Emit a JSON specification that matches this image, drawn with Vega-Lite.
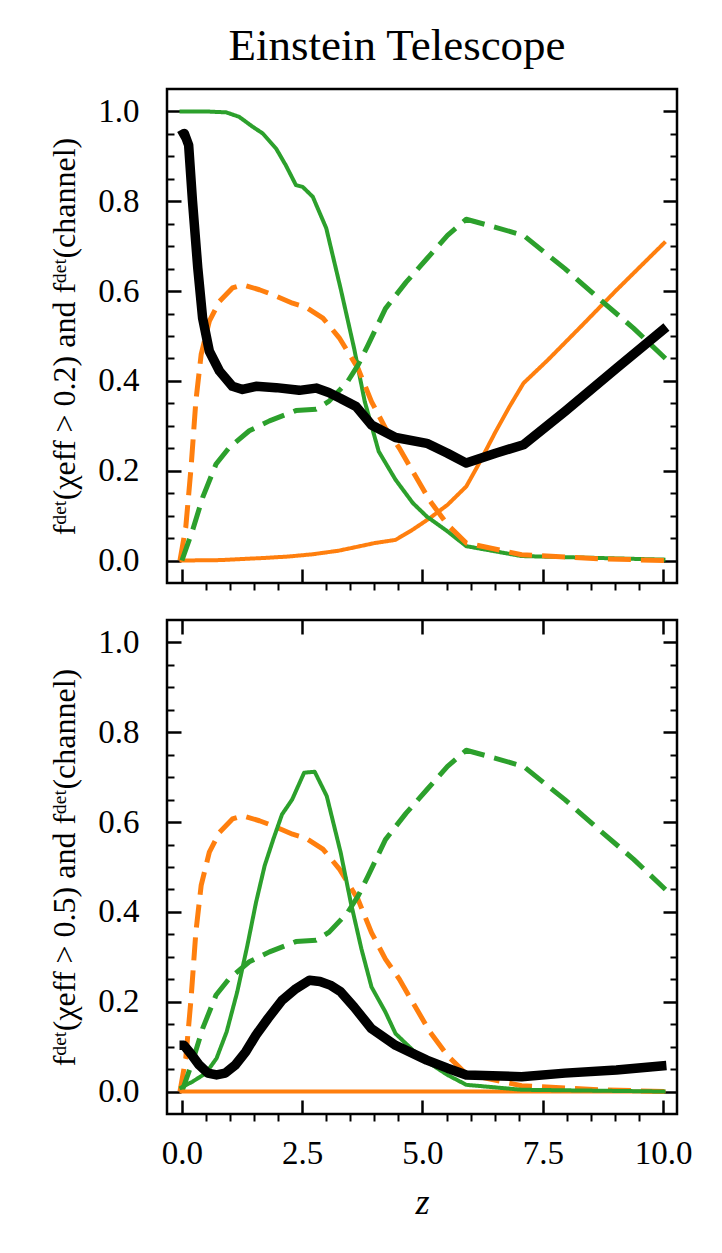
{
  "$schema": "https://vega.github.io/schema/vega-lite/v6.json",
  "background": "white",
  "padding": {"left": 47, "top": 22, "right": 10, "bottom": 5},
  "spacing": 24,
  "config": {
    "view": {"stroke": "black", "strokeWidth": 2.5},
    "font": "Liberation Serif",
    "axis": {
      "domain": false, "grid": false,
      "tickColor": "black", "tickWidth": 2.5,
      "labelFont": "Liberation Serif", "labelFontSize": 33, "labelColor": "black",
      "titleFont": "Liberation Serif, DejaVu Serif", "titleFontSize": 32, "titleColor": "black", "titleFontWeight": "normal"
    },
    "line": {"strokeCap": "butt", "strokeJoin": "round"}
  },
  "datasets": {
    "curves": [
      {"panel": "top", "group": "ch1", "q": "chi", "z": -0.05, "f": 0.0},
      {"panel": "top", "group": "ch1", "q": "chi", "z": 0.8, "f": 0.001},
      {"panel": "top", "group": "ch1", "q": "chi", "z": 1.75, "f": 0.006},
      {"panel": "top", "group": "ch1", "q": "chi", "z": 2.22, "f": 0.009},
      {"panel": "top", "group": "ch1", "q": "chi", "z": 2.72, "f": 0.014},
      {"panel": "top", "group": "ch1", "q": "chi", "z": 3.26, "f": 0.022},
      {"panel": "top", "group": "ch1", "q": "chi", "z": 3.66, "f": 0.031},
      {"panel": "top", "group": "ch1", "q": "chi", "z": 4.01, "f": 0.039},
      {"panel": "top", "group": "ch1", "q": "chi", "z": 4.44, "f": 0.046},
      {"panel": "top", "group": "ch1", "q": "chi", "z": 4.8, "f": 0.069},
      {"panel": "top", "group": "ch1", "q": "chi", "z": 5.16, "f": 0.095},
      {"panel": "top", "group": "ch1", "q": "chi", "z": 5.52, "f": 0.124},
      {"panel": "top", "group": "ch1", "q": "chi", "z": 5.91, "f": 0.165},
      {"panel": "top", "group": "ch1", "q": "chi", "z": 6.16, "f": 0.213},
      {"panel": "top", "group": "ch1", "q": "chi", "z": 6.52, "f": 0.287},
      {"panel": "top", "group": "ch1", "q": "chi", "z": 6.81, "f": 0.343},
      {"panel": "top", "group": "ch1", "q": "chi", "z": 7.1, "f": 0.395},
      {"panel": "top", "group": "ch1", "q": "chi", "z": 7.6, "f": 0.446},
      {"panel": "top", "group": "ch1", "q": "chi", "z": 8.32, "f": 0.524},
      {"panel": "top", "group": "ch1", "q": "chi", "z": 9.03, "f": 0.602},
      {"panel": "top", "group": "ch1", "q": "chi", "z": 10.05, "f": 0.71},

      {"panel": "top", "group": "ch2", "q": "chi", "z": -0.05, "f": 1.0},
      {"panel": "top", "group": "ch2", "q": "chi", "z": 0.5, "f": 1.0},
      {"panel": "top", "group": "ch2", "q": "chi", "z": 0.92, "f": 0.998},
      {"panel": "top", "group": "ch2", "q": "chi", "z": 1.19, "f": 0.988},
      {"panel": "top", "group": "ch2", "q": "chi", "z": 1.47, "f": 0.966},
      {"panel": "top", "group": "ch2", "q": "chi", "z": 1.68, "f": 0.951},
      {"panel": "top", "group": "ch2", "q": "chi", "z": 1.96, "f": 0.917},
      {"panel": "top", "group": "ch2", "q": "chi", "z": 2.16, "f": 0.88},
      {"panel": "top", "group": "ch2", "q": "chi", "z": 2.37, "f": 0.836},
      {"panel": "top", "group": "ch2", "q": "chi", "z": 2.51, "f": 0.832},
      {"panel": "top", "group": "ch2", "q": "chi", "z": 2.72, "f": 0.81},
      {"panel": "top", "group": "ch2", "q": "chi", "z": 3.0, "f": 0.74},
      {"panel": "top", "group": "ch2", "q": "chi", "z": 3.3, "f": 0.605},
      {"panel": "top", "group": "ch2", "q": "chi", "z": 3.58, "f": 0.472},
      {"panel": "top", "group": "ch2", "q": "chi", "z": 3.8, "f": 0.354},
      {"panel": "top", "group": "ch2", "q": "chi", "z": 4.09, "f": 0.243},
      {"panel": "top", "group": "ch2", "q": "chi", "z": 4.44, "f": 0.18},
      {"panel": "top", "group": "ch2", "q": "chi", "z": 4.8, "f": 0.128},
      {"panel": "top", "group": "ch2", "q": "chi", "z": 5.09, "f": 0.098},
      {"panel": "top", "group": "ch2", "q": "chi", "z": 5.52, "f": 0.065},
      {"panel": "top", "group": "ch2", "q": "chi", "z": 5.91, "f": 0.032},
      {"panel": "top", "group": "ch2", "q": "chi", "z": 7.06, "f": 0.01},
      {"panel": "top", "group": "ch2", "q": "chi", "z": 10.05, "f": 0.002},

      {"panel": "top", "group": "all", "q": "chi", "z": -0.05, "f": 0.945},
      {"panel": "top", "group": "all", "q": "chi", "z": 0.05, "f": 0.951},
      {"panel": "top", "group": "all", "q": "chi", "z": 0.14, "f": 0.925},
      {"panel": "top", "group": "all", "q": "chi", "z": 0.22, "f": 0.8},
      {"panel": "top", "group": "all", "q": "chi", "z": 0.33, "f": 0.651},
      {"panel": "top", "group": "all", "q": "chi", "z": 0.43, "f": 0.54},
      {"panel": "top", "group": "all", "q": "chi", "z": 0.57, "f": 0.466},
      {"panel": "top", "group": "all", "q": "chi", "z": 0.78, "f": 0.422},
      {"panel": "top", "group": "all", "q": "chi", "z": 1.05, "f": 0.388},
      {"panel": "top", "group": "all", "q": "chi", "z": 1.26, "f": 0.381},
      {"panel": "top", "group": "all", "q": "chi", "z": 1.54, "f": 0.388},
      {"panel": "top", "group": "all", "q": "chi", "z": 1.96, "f": 0.385},
      {"panel": "top", "group": "all", "q": "chi", "z": 2.44, "f": 0.379},
      {"panel": "top", "group": "all", "q": "chi", "z": 2.79, "f": 0.384},
      {"panel": "top", "group": "all", "q": "chi", "z": 3.05, "f": 0.374},
      {"panel": "top", "group": "all", "q": "chi", "z": 3.3, "f": 0.361},
      {"panel": "top", "group": "all", "q": "chi", "z": 3.62, "f": 0.343},
      {"panel": "top", "group": "all", "q": "chi", "z": 3.94, "f": 0.302},
      {"panel": "top", "group": "all", "q": "chi", "z": 4.44, "f": 0.274},
      {"panel": "top", "group": "all", "q": "chi", "z": 5.09, "f": 0.261},
      {"panel": "top", "group": "all", "q": "chi", "z": 5.52, "f": 0.239},
      {"panel": "top", "group": "all", "q": "chi", "z": 5.91, "f": 0.217},
      {"panel": "top", "group": "all", "q": "chi", "z": 6.52, "f": 0.239},
      {"panel": "top", "group": "all", "q": "chi", "z": 7.1, "f": 0.258},
      {"panel": "top", "group": "all", "q": "chi", "z": 7.96, "f": 0.332},
      {"panel": "top", "group": "all", "q": "chi", "z": 9.03, "f": 0.428},
      {"panel": "top", "group": "all", "q": "chi", "z": 10.07, "f": 0.52},

      {"panel": "both", "group": "ch1", "q": "channel", "z": -0.04, "f": 0.0},
      {"panel": "both", "group": "ch1", "q": "channel", "z": 0.08, "f": 0.074},
      {"panel": "both", "group": "ch1", "q": "channel", "z": 0.19, "f": 0.207},
      {"panel": "both", "group": "ch1", "q": "channel", "z": 0.29, "f": 0.355},
      {"panel": "both", "group": "ch1", "q": "channel", "z": 0.4, "f": 0.459},
      {"panel": "both", "group": "ch1", "q": "channel", "z": 0.57, "f": 0.533},
      {"panel": "both", "group": "ch1", "q": "channel", "z": 0.78, "f": 0.577},
      {"panel": "both", "group": "ch1", "q": "channel", "z": 1.05, "f": 0.607},
      {"panel": "both", "group": "ch1", "q": "channel", "z": 1.26, "f": 0.614},
      {"panel": "both", "group": "ch1", "q": "channel", "z": 1.61, "f": 0.603},
      {"panel": "both", "group": "ch1", "q": "channel", "z": 1.89, "f": 0.592},
      {"panel": "both", "group": "ch1", "q": "channel", "z": 2.3, "f": 0.573},
      {"panel": "both", "group": "ch1", "q": "channel", "z": 2.58, "f": 0.564},
      {"panel": "both", "group": "ch1", "q": "channel", "z": 2.93, "f": 0.54},
      {"panel": "both", "group": "ch1", "q": "channel", "z": 3.27, "f": 0.496},
      {"panel": "both", "group": "ch1", "q": "channel", "z": 3.66, "f": 0.428},
      {"panel": "both", "group": "ch1", "q": "channel", "z": 3.94, "f": 0.354},
      {"panel": "both", "group": "ch1", "q": "channel", "z": 4.23, "f": 0.295},
      {"panel": "both", "group": "ch1", "q": "channel", "z": 4.52, "f": 0.25},
      {"panel": "both", "group": "ch1", "q": "channel", "z": 4.8, "f": 0.198},
      {"panel": "both", "group": "ch1", "q": "channel", "z": 5.16, "f": 0.132},
      {"panel": "both", "group": "ch1", "q": "channel", "z": 5.52, "f": 0.08},
      {"panel": "both", "group": "ch1", "q": "channel", "z": 5.91, "f": 0.039},
      {"panel": "both", "group": "ch1", "q": "channel", "z": 7.06, "f": 0.013},
      {"panel": "both", "group": "ch1", "q": "channel", "z": 8.67, "f": 0.004},
      {"panel": "both", "group": "ch1", "q": "channel", "z": 10.05, "f": 0.0},

      {"panel": "both", "group": "ch2", "q": "channel", "z": 0.0, "f": 0.0},
      {"panel": "both", "group": "ch2", "q": "channel", "z": 0.22, "f": 0.067},
      {"panel": "both", "group": "ch2", "q": "channel", "z": 0.43, "f": 0.14},
      {"panel": "both", "group": "ch2", "q": "channel", "z": 0.71, "f": 0.215},
      {"panel": "both", "group": "ch2", "q": "channel", "z": 0.98, "f": 0.251},
      {"panel": "both", "group": "ch2", "q": "channel", "z": 1.4, "f": 0.289},
      {"panel": "both", "group": "ch2", "q": "channel", "z": 1.82, "f": 0.311},
      {"panel": "both", "group": "ch2", "q": "channel", "z": 2.37, "f": 0.334},
      {"panel": "both", "group": "ch2", "q": "channel", "z": 2.79, "f": 0.337},
      {"panel": "both", "group": "ch2", "q": "channel", "z": 3.06, "f": 0.355},
      {"panel": "both", "group": "ch2", "q": "channel", "z": 3.44, "f": 0.398},
      {"panel": "both", "group": "ch2", "q": "channel", "z": 3.66, "f": 0.435},
      {"panel": "both", "group": "ch2", "q": "channel", "z": 3.87, "f": 0.48},
      {"panel": "both", "group": "ch2", "q": "channel", "z": 4.23, "f": 0.561},
      {"panel": "both", "group": "ch2", "q": "channel", "z": 4.66, "f": 0.62},
      {"panel": "both", "group": "ch2", "q": "channel", "z": 5.09, "f": 0.672},
      {"panel": "both", "group": "ch2", "q": "channel", "z": 5.52, "f": 0.724},
      {"panel": "both", "group": "ch2", "q": "channel", "z": 5.91, "f": 0.76},
      {"panel": "both", "group": "ch2", "q": "channel", "z": 6.52, "f": 0.742},
      {"panel": "both", "group": "ch2", "q": "channel", "z": 7.1, "f": 0.724},
      {"panel": "both", "group": "ch2", "q": "channel", "z": 7.96, "f": 0.65},
      {"panel": "both", "group": "ch2", "q": "channel", "z": 8.67, "f": 0.583},
      {"panel": "both", "group": "ch2", "q": "channel", "z": 9.39, "f": 0.517},
      {"panel": "both", "group": "ch2", "q": "channel", "z": 10.05, "f": 0.45},

      {"panel": "bottom", "group": "ch1", "q": "chi", "z": -0.05, "f": 0.0},
      {"panel": "bottom", "group": "ch1", "q": "chi", "z": 5.0, "f": 0.0},
      {"panel": "bottom", "group": "ch1", "q": "chi", "z": 10.05, "f": 0.0},

      {"panel": "bottom", "group": "ch2", "q": "chi", "z": -0.05, "f": 0.007},
      {"panel": "bottom", "group": "ch2", "q": "chi", "z": 0.22, "f": 0.022},
      {"panel": "bottom", "group": "ch2", "q": "chi", "z": 0.5, "f": 0.041},
      {"panel": "bottom", "group": "ch2", "q": "chi", "z": 0.72, "f": 0.074},
      {"panel": "bottom", "group": "ch2", "q": "chi", "z": 0.93, "f": 0.133},
      {"panel": "bottom", "group": "ch2", "q": "chi", "z": 1.15, "f": 0.222},
      {"panel": "bottom", "group": "ch2", "q": "chi", "z": 1.36, "f": 0.325},
      {"panel": "bottom", "group": "ch2", "q": "chi", "z": 1.54, "f": 0.421},
      {"panel": "bottom", "group": "ch2", "q": "chi", "z": 1.72, "f": 0.503},
      {"panel": "bottom", "group": "ch2", "q": "chi", "z": 1.9, "f": 0.562},
      {"panel": "bottom", "group": "ch2", "q": "chi", "z": 2.08, "f": 0.617},
      {"panel": "bottom", "group": "ch2", "q": "chi", "z": 2.29, "f": 0.65},
      {"panel": "bottom", "group": "ch2", "q": "chi", "z": 2.54, "f": 0.71},
      {"panel": "bottom", "group": "ch2", "q": "chi", "z": 2.76, "f": 0.712},
      {"panel": "bottom", "group": "ch2", "q": "chi", "z": 3.01, "f": 0.658},
      {"panel": "bottom", "group": "ch2", "q": "chi", "z": 3.3, "f": 0.532},
      {"panel": "bottom", "group": "ch2", "q": "chi", "z": 3.51, "f": 0.421},
      {"panel": "bottom", "group": "ch2", "q": "chi", "z": 3.73, "f": 0.318},
      {"panel": "bottom", "group": "ch2", "q": "chi", "z": 3.94, "f": 0.233},
      {"panel": "bottom", "group": "ch2", "q": "chi", "z": 4.23, "f": 0.177},
      {"panel": "bottom", "group": "ch2", "q": "chi", "z": 4.44, "f": 0.129},
      {"panel": "bottom", "group": "ch2", "q": "chi", "z": 4.8, "f": 0.092},
      {"panel": "bottom", "group": "ch2", "q": "chi", "z": 5.09, "f": 0.067},
      {"panel": "bottom", "group": "ch2", "q": "chi", "z": 5.52, "f": 0.037},
      {"panel": "bottom", "group": "ch2", "q": "chi", "z": 5.91, "f": 0.015},
      {"panel": "bottom", "group": "ch2", "q": "chi", "z": 7.06, "f": 0.004},
      {"panel": "bottom", "group": "ch2", "q": "chi", "z": 10.05, "f": 0.0},

      {"panel": "bottom", "group": "all", "q": "chi", "z": -0.05, "f": 0.103},
      {"panel": "bottom", "group": "all", "q": "chi", "z": 0.04, "f": 0.103},
      {"panel": "bottom", "group": "all", "q": "chi", "z": 0.18, "f": 0.085},
      {"panel": "bottom", "group": "all", "q": "chi", "z": 0.36, "f": 0.059},
      {"panel": "bottom", "group": "all", "q": "chi", "z": 0.54, "f": 0.041},
      {"panel": "bottom", "group": "all", "q": "chi", "z": 0.72, "f": 0.037},
      {"panel": "bottom", "group": "all", "q": "chi", "z": 0.9, "f": 0.041},
      {"panel": "bottom", "group": "all", "q": "chi", "z": 1.11, "f": 0.059},
      {"panel": "bottom", "group": "all", "q": "chi", "z": 1.33, "f": 0.089},
      {"panel": "bottom", "group": "all", "q": "chi", "z": 1.54, "f": 0.126},
      {"panel": "bottom", "group": "all", "q": "chi", "z": 1.79, "f": 0.163},
      {"panel": "bottom", "group": "all", "q": "chi", "z": 2.08, "f": 0.203},
      {"panel": "bottom", "group": "all", "q": "chi", "z": 2.37, "f": 0.229},
      {"panel": "bottom", "group": "all", "q": "chi", "z": 2.65, "f": 0.248},
      {"panel": "bottom", "group": "all", "q": "chi", "z": 2.87, "f": 0.245},
      {"panel": "bottom", "group": "all", "q": "chi", "z": 3.08, "f": 0.237},
      {"panel": "bottom", "group": "all", "q": "chi", "z": 3.3, "f": 0.222},
      {"panel": "bottom", "group": "all", "q": "chi", "z": 3.58, "f": 0.188},
      {"panel": "bottom", "group": "all", "q": "chi", "z": 3.94, "f": 0.14},
      {"panel": "bottom", "group": "all", "q": "chi", "z": 4.44, "f": 0.103},
      {"panel": "bottom", "group": "all", "q": "chi", "z": 5.09, "f": 0.07},
      {"panel": "bottom", "group": "all", "q": "chi", "z": 5.52, "f": 0.052},
      {"panel": "bottom", "group": "all", "q": "chi", "z": 5.91, "f": 0.037},
      {"panel": "bottom", "group": "all", "q": "chi", "z": 7.06, "f": 0.033},
      {"panel": "bottom", "group": "all", "q": "chi", "z": 7.96, "f": 0.041},
      {"panel": "bottom", "group": "all", "q": "chi", "z": 9.03, "f": 0.048},
      {"panel": "bottom", "group": "all", "q": "chi", "z": 10.07, "f": 0.058}
    ]
  },
  "vconcat": [
    {
      "width": 510,
      "height": 494,
      "title": {"text": "Einstein Telescope", "font": "Liberation Serif", "fontSize": 45, "fontWeight": "normal", "color": "black", "anchor": "middle", "dx": -25, "offset": 20},
      "data": {"name": "curves"},
      "transform": [{"filter": "datum.panel === 'top' || datum.panel === 'both'"}],
      "layer": [
        {
          "transform": [{"filter": "datum.group !== 'all'"}],
          "mark": {"type": "line"},
          "encoding": {
            "x": {"field": "z", "type": "quantitative", "scale": {"domain": [-0.31, 10.29], "nice": false, "zero": false},
              "axis": {"orient": "bottom", "values": [0, 2.5, 5, 7.5, 10], "tickSize": -14, "labels": false, "title": null}},
            "y": {"field": "f", "type": "quantitative", "scale": {"domain": [-0.05, 1.05], "nice": false, "zero": false},
              "axis": {"orient": "left", "values": [0, 0.2, 0.4, 0.6, 0.8, 1], "format": ".1f", "tickSize": -14, "labelPadding": 42, "titlePadding": 16,
                "title": "fᵈᵉᵗ(χeff > 0.2) and fᵈᵉᵗ(channel)"}},
            "color": {"field": "group", "type": "nominal", "scale": {"domain": ["ch1", "ch2"], "range": ["#ff7f0e", "#2ca02c"]}, "legend": null},
            "strokeDash": {"field": "q", "type": "nominal", "scale": {"domain": ["chi", "channel"], "range": [[1, 0], [23, 10]]}, "legend": null},
            "strokeWidth": {"field": "q", "type": "nominal", "scale": {"domain": ["chi", "channel"], "range": [4, 5]}, "legend": null}
          }
        },
        {
          "transform": [{"filter": "datum.group === 'all'"}],
          "mark": {"type": "line", "color": "black", "strokeWidth": 9.5},
          "encoding": {
            "x": {"field": "z", "type": "quantitative", "scale": {"domain": [-0.31, 10.29], "nice": false, "zero": false}, "axis": null},
            "y": {"field": "f", "type": "quantitative", "scale": {"domain": [-0.05, 1.05], "nice": false, "zero": false},
              "axis": {"orient": "right", "values": [0, 0.2, 0.4, 0.6, 0.8, 1], "tickSize": -14, "labels": false, "title": null}}
          }
        },
        {
          "mark": {"type": "line", "opacity": 0},
          "encoding": {
            "x": {"field": "z", "type": "quantitative", "scale": {"domain": [-0.31, 10.29], "nice": false, "zero": false},
              "axis": {"orient": "bottom", "values": [0.5, 1, 1.5, 2, 3, 3.5, 4, 4.5, 5.5, 6, 6.5, 7, 8, 8.5, 9, 9.5], "tickSize": 7, "tickWidth": 2, "labels": false, "title": null}},
            "y": {"field": "f", "type": "quantitative", "scale": {"domain": [-0.05, 1.05], "nice": false, "zero": false},
              "axis": {"orient": "left", "values": [0.05, 0.1, 0.15, 0.25, 0.3, 0.35, 0.45, 0.5, 0.55, 0.65, 0.7, 0.75, 0.85, 0.9, 0.95], "tickSize": -7, "tickWidth": 2, "labels": false, "title": null}}
          }
        },
        {
          "mark": {"type": "line", "opacity": 0},
          "encoding": {
            "x": {"field": "z", "type": "quantitative", "scale": {"domain": [-0.31, 10.29], "nice": false, "zero": false}, "axis": null},
            "y": {"field": "f", "type": "quantitative", "scale": {"domain": [-0.05, 1.05], "nice": false, "zero": false},
              "axis": {"orient": "right", "values": [0.05, 0.1, 0.15, 0.25, 0.3, 0.35, 0.45, 0.5, 0.55, 0.65, 0.7, 0.75, 0.85, 0.9, 0.95], "tickSize": -7, "tickWidth": 2, "labels": false, "title": null}}
          }
        }
      ],
      "resolve": {"axis": {"x": "independent", "y": "independent"}}
    },
    {
      "width": 510,
      "height": 494,
      "data": {"name": "curves"},
      "transform": [{"filter": "datum.panel === 'bottom' || datum.panel === 'both'"}],
      "layer": [
        {
          "transform": [{"filter": "datum.group !== 'all'"}],
          "mark": {"type": "line"},
          "encoding": {
            "x": {"field": "z", "type": "quantitative", "scale": {"domain": [-0.31, 10.29], "nice": false, "zero": false},
              "axis": {"orient": "bottom", "values": [0, 2.5, 5, 7.5, 10], "format": ".1f", "tickSize": -14, "labelPadding": 37, "titlePadding": 15,
                "title": "z", "titleFontStyle": "italic", "titleFontSize": 36}},
            "y": {"field": "f", "type": "quantitative", "scale": {"domain": [-0.05, 1.05], "nice": false, "zero": false},
              "axis": {"orient": "left", "values": [0, 0.2, 0.4, 0.6, 0.8, 1], "format": ".1f", "tickSize": -14, "labelPadding": 42, "titlePadding": 16,
                "title": "fᵈᵉᵗ(χeff > 0.5) and fᵈᵉᵗ(channel)"}},
            "color": {"field": "group", "type": "nominal", "scale": {"domain": ["ch1", "ch2"], "range": ["#ff7f0e", "#2ca02c"]}, "legend": null},
            "strokeDash": {"field": "q", "type": "nominal", "scale": {"domain": ["chi", "channel"], "range": [[1, 0], [23, 10]]}, "legend": null},
            "strokeWidth": {"field": "q", "type": "nominal", "scale": {"domain": ["chi", "channel"], "range": [4, 5]}, "legend": null}
          }
        },
        {
          "transform": [{"filter": "datum.group === 'all'"}],
          "mark": {"type": "line", "color": "black", "strokeWidth": 9.5},
          "encoding": {
            "x": {"field": "z", "type": "quantitative", "scale": {"domain": [-0.31, 10.29], "nice": false, "zero": false},
              "axis": {"orient": "top", "values": [0, 2.5, 5, 7.5, 10], "tickSize": -14, "labels": false, "title": null}},
            "y": {"field": "f", "type": "quantitative", "scale": {"domain": [-0.05, 1.05], "nice": false, "zero": false},
              "axis": {"orient": "right", "values": [0, 0.2, 0.4, 0.6, 0.8, 1], "tickSize": -14, "labels": false, "title": null}}
          }
        },
        {
          "mark": {"type": "line", "opacity": 0},
          "encoding": {
            "x": {"field": "z", "type": "quantitative", "scale": {"domain": [-0.31, 10.29], "nice": false, "zero": false},
              "axis": {"orient": "bottom", "values": [0.5, 1, 1.5, 2, 3, 3.5, 4, 4.5, 5.5, 6, 6.5, 7, 8, 8.5, 9, 9.5], "tickSize": 7, "tickWidth": 2, "labels": false, "title": null}},
            "y": {"field": "f", "type": "quantitative", "scale": {"domain": [-0.05, 1.05], "nice": false, "zero": false},
              "axis": {"orient": "left", "values": [0.05, 0.1, 0.15, 0.25, 0.3, 0.35, 0.45, 0.5, 0.55, 0.65, 0.7, 0.75, 0.85, 0.9, 0.95], "tickSize": -7, "tickWidth": 2, "labels": false, "title": null}}
          }
        },
        {
          "mark": {"type": "line", "opacity": 0},
          "encoding": {
            "x": {"field": "z", "type": "quantitative", "scale": {"domain": [-0.31, 10.29], "nice": false, "zero": false}, "axis": null},
            "y": {"field": "f", "type": "quantitative", "scale": {"domain": [-0.05, 1.05], "nice": false, "zero": false},
              "axis": {"orient": "right", "values": [0.05, 0.1, 0.15, 0.25, 0.3, 0.35, 0.45, 0.5, 0.55, 0.65, 0.7, 0.75, 0.85, 0.9, 0.95], "tickSize": -7, "tickWidth": 2, "labels": false, "title": null}}
          }
        }
      ],
      "resolve": {"axis": {"x": "independent", "y": "independent"}}
    }
  ]
}
